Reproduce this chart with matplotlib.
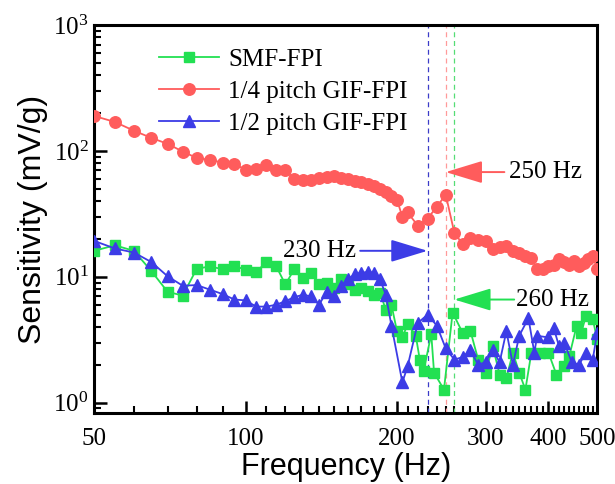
import math
import matplotlib
matplotlib.use('Agg')
import matplotlib.pyplot as plt
from matplotlib.ticker import FixedLocator, NullFormatter, LogLocator, FuncFormatter

# ---------------- data ----------------
smf_freq = [50, 55, 60, 65, 70, 75, 80, 85, 90, 95, 100, 105, 110, 115, 120, 125, 130, 135, 140,
            145, 150, 155, 160, 165, 170, 175, 180, 185, 190, 195, 200, 205, 210, 218, 222, 226,
            234, 237, 248, 258, 270, 280, 290, 300, 310, 320, 330, 340, 350, 360, 370, 385, 400,
            415, 430, 440, 455, 465, 475, 490, 500]
smf_sens = [16.1, 17.8, 16.1, 11.1, 7.6, 7.1, 11.6, 12.1, 11.5, 12.2, 11.4, 11.0, 13.0, 12.2, 8.7,
            11.5, 9.8, 10.8, 8.7, 9.0, 8.2, 9.6, 8.7, 7.9, 8.2, 7.7, 7.2, 7.5, 5.5, 6.0, 3.7, 3.3,
            4.2, 3.4, 2.2, 1.8, 3.5, 1.73, 1.27, 5.2, 3.6, 3.7, 2.2, 1.73, 2.8, 1.67, 1.57, 2.5,
            1.73, 1.27, 2.5, 2.5, 2.5, 1.67, 1.95, 2.33, 4.06, 3.6, 4.9, 4.6, 3.2]

quarter_freq = [50, 55, 60, 65, 70, 75, 80, 85, 90, 95, 100, 105, 110, 115, 120, 125, 130, 135,
                140, 145, 150, 155, 160, 165, 170, 175, 180, 185, 190, 195, 200, 205, 210, 220,
                230, 240, 250, 260, 270, 280, 290, 300, 310, 320, 330, 340, 350, 360, 370, 380,
                390, 400, 410, 420, 430, 440, 450, 460, 470, 480, 490, 500]
quarter_sens = [190, 170, 145, 127, 114, 99, 88, 85, 81, 79, 71, 72, 77, 71, 70, 60, 59, 59, 61,
                62, 63, 61, 60, 58, 57, 55, 53, 50, 47, 44, 41, 30, 32.5, 25.5, 29, 36, 45, 22.5,
                18.2, 20.5, 19.8, 19.3, 16.6, 17.2, 17.6, 16, 15.6, 14.6, 14, 11.5, 11.5, 12.2,
                12.5, 13.8, 13, 12.5, 13.3, 12.2, 12.8, 13.8, 14.6, 11.5]

half_freq = [50, 55, 60, 65, 70, 75, 80, 85, 90, 95, 100, 105, 110, 115, 120, 125, 130, 135, 140,
             145, 150, 155, 160, 165, 170, 175, 180, 185, 190, 195, 205, 210, 220, 230, 240, 250,
             260, 270, 280, 290, 300, 310, 320, 330, 340, 350, 365, 375, 380, 400, 410, 420, 430,
             445, 460, 475, 490, 500]
half_sens = [19.3, 16.8, 15.6, 13.1, 10.1, 8.5, 8.6, 7.9, 7.3, 6.6, 6.5, 5.8, 5.8, 6.0, 6.4, 6.9,
             7.2, 7.0, 6.0, 7.6, 7.0, 8.5, 9.6, 10.5, 10.8, 10.9, 10.8, 9.6, 7.2, 4.1, 1.45, 1.95,
             4.3, 5.0, 4.1, 2.7, 2.2, 2.3, 2.6, 2.0, 2.1, 2.6, 2.1, 3.7, 2.0, 3.4, 4.7, 2.5, 3.4,
             3.3, 3.9, 2.8, 3.0, 2.1, 2.0, 2.5, 2.2, 3.6]

series_labels = ['SMF-FPI', '1/4 pitch GIF-FPI', '1/2 pitch GIF-FPI']
x_major = [50, 100, 200, 300, 400, 500]
x_major_labels = ['50', '100', '200', '300', '400', '500']
marker_freqs = [230, 250, 260]
marker_labels = ['230 Hz', '250 Hz', '260 Hz']

# ---------------- style ----------------
GREEN = '#22E052'
RED = '#FF5C5C'
BLUE = '#3C3CE6'

plt.rcParams['font.family'] = ['Liberation Serif', 'DejaVu Serif']
plt.rcParams['mathtext.default'] = 'regular'

fig = plt.figure(figsize=(6.15, 4.84), dpi=100)
ax = fig.add_axes([0.153, 0.147, 0.818, 0.801])

ax.plot(smf_freq, smf_sens, '-s', color=GREEN, lw=1.3, ms=6.8, mec=GREEN, label=series_labels[0], zorder=3)
ax.plot(quarter_freq, quarter_sens, '-o', color=RED, lw=1.3, ms=8.3, mec=RED, label=series_labels[1], zorder=3)
ax.plot(half_freq, half_sens, '-^', color=BLUE, lw=1.3, ms=8.3, mec=BLUE, label=series_labels[2], zorder=4)

ax.set_xscale('log')
ax.set_yscale('log')
ax.set_xlim(50, 500)
ax.set_ylim(0.83, 1000)

# vertical dashed marker lines
for f, c in zip(marker_freqs, ['#3C3CC8', '#FF9A9A', '#55DD75']):
    ax.axvline(f, color=c, lw=0.9, ls=(0, (4, 3)), zorder=2)

# annotations
arrow_kw = dict(arrowstyle='-|>,head_length=2.3,head_width=0.7', lw=1.4, mutation_scale=10,
                shrinkA=0, shrinkB=0)
ax.annotate('', xy=(230, 16.1), xytext=(169, 16.1),
            arrowprops=dict(color=BLUE, **arrow_kw))
ax.text(166, 16.1, marker_labels[0], ha='right', va='center', fontsize=18)

ax.annotate('', xy=(250, 68), xytext=(327, 68),
            arrowprops=dict(color=RED, **arrow_kw))
ax.text(334, 68, marker_labels[1], ha='left', va='center', fontsize=18)

ax.annotate('', xy=(260, 6.6), xytext=(342, 6.6),
            arrowprops=dict(color=GREEN, **arrow_kw))
ax.text(345, 6.6, marker_labels[2], ha='left', va='center', fontsize=18)

# ticks
ax.xaxis.set_major_locator(FixedLocator(x_major))
ax.xaxis.set_major_formatter(FuncFormatter(
    lambda v, p: x_major_labels[x_major.index(int(round(v)))] if int(round(v)) in x_major else ''))
minor_x = [v for v in range(60, 500, 10) if v not in x_major]
ax.xaxis.set_minor_locator(FixedLocator(minor_x))
ax.xaxis.set_minor_formatter(NullFormatter())

ax.yaxis.set_major_locator(LogLocator(base=10, numticks=10))
ax.yaxis.set_minor_locator(LogLocator(base=10, subs=range(2, 10), numticks=20))
ax.yaxis.set_minor_formatter(NullFormatter())
ax.yaxis.set_major_formatter(FuncFormatter(lambda v, p: r'$10^{%d}$' % round(math.log10(v))))

ax.tick_params(which='both', direction='in', top=False, right=False)
ax.tick_params(axis='x', labelsize=18, pad=11)
ax.tick_params(axis='y', labelsize=18, pad=4)
ax.tick_params(which='major', length=9, width=1.8)
ax.tick_params(which='minor', length=5, width=1.5)

for s in ax.spines.values():
    s.set_linewidth(2.2)

ax.set_xlabel('Frequency (Hz)', fontsize=22, family=['Liberation Sans'], labelpad=1)
ax.set_ylabel('Sensitivity (mV/g)', fontsize=23, family=['Liberation Sans'], labelpad=4)

leg = ax.legend(loc='upper left', bbox_to_anchor=(0.11, 0.965), frameon=False, fontsize=18,
                numpoints=1, handlelength=2.4, handletextpad=0.35, labelspacing=0.38,
                borderaxespad=0)

fig.savefig('out.png', dpi=100)
